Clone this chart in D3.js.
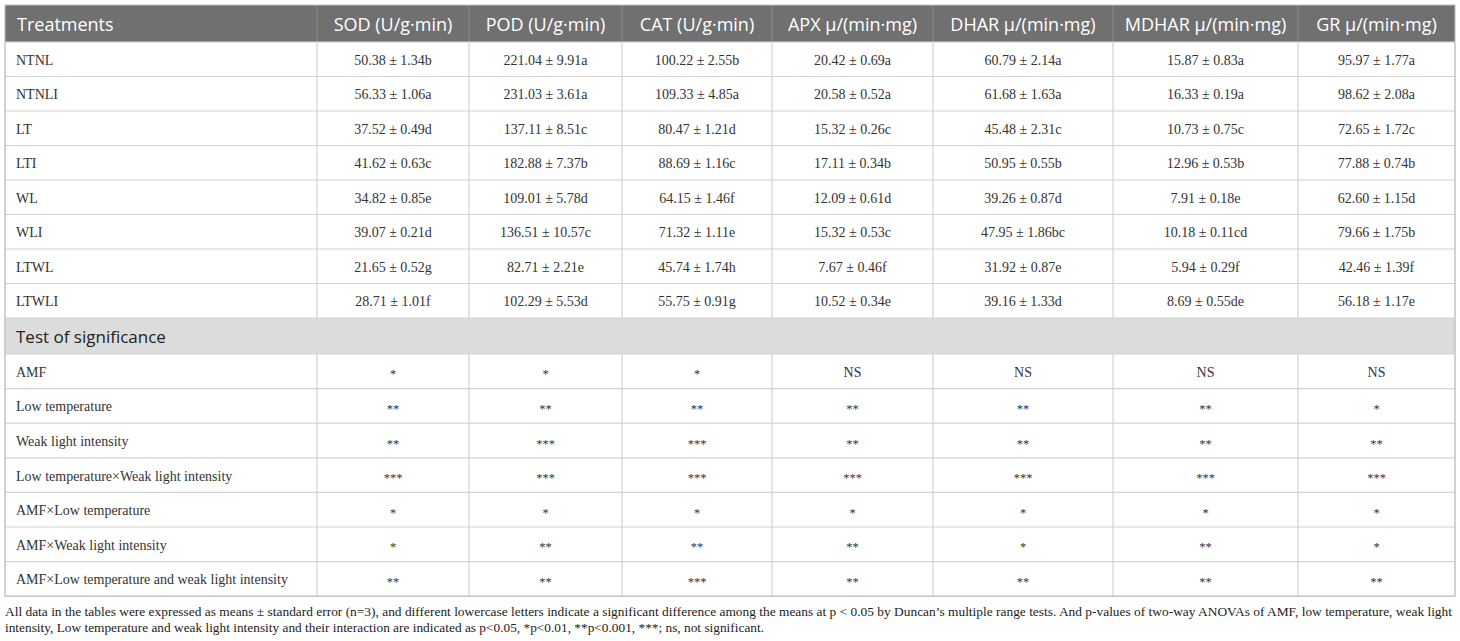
<!DOCTYPE html>
<html>
<head>
<meta charset="utf-8">
<script src="https://cdn.jsdelivr.net/npm/d3@7"></script>
<style>
  html, body { margin: 0; padding: 0; background: #fff; }
  svg { display: block; }
</style>
</head>
<body>
<svg id="chart" width="1460" height="641"></svg>
<script>
// ---------------- DATA ----------------
const headers = ["Treatments", "SOD (U/g·min)", "POD (U/g·min)", "CAT (U/g·min)", "APX μ/(min·mg)", "DHAR μ/(min·mg)", "MDHAR μ/(min·mg)", "GR μ/(min·mg)"];
const treatments = ["NTNL", "NTNLI", "LT", "LTI", "WL", "WLI", "LTWL", "LTWLI"];
const sod   = ["50.38 ± 1.34b", "56.33 ± 1.06a", "37.52 ± 0.49d", "41.62 ± 0.63c", "34.82 ± 0.85e", "39.07 ± 0.21d", "21.65 ± 0.52g", "28.71 ± 1.01f"];
const pod   = ["221.04 ± 9.91a", "231.03 ± 3.61a", "137.11 ± 8.51c", "182.88 ± 7.37b", "109.01 ± 5.78d", "136.51 ± 10.57c", "82.71 ± 2.21e", "102.29 ± 5.53d"];
const cat   = ["100.22 ± 2.55b", "109.33 ± 4.85a", "80.47 ± 1.21d", "88.69 ± 1.16c", "64.15 ± 1.46f", "71.32 ± 1.11e", "45.74 ± 1.74h", "55.75 ± 0.91g"];
const apx   = ["20.42 ± 0.69a", "20.58 ± 0.52a", "15.32 ± 0.26c", "17.11 ± 0.34b", "12.09 ± 0.61d", "15.32 ± 0.53c", "7.67 ± 0.46f", "10.52 ± 0.34e"];
const dhar  = ["60.79 ± 2.14a", "61.68 ± 1.63a", "45.48 ± 2.31c", "50.95 ± 0.55b", "39.26 ± 0.87d", "47.95 ± 1.86bc", "31.92 ± 0.87e", "39.16 ± 1.33d"];
const mdhar = ["15.87 ± 0.83a", "16.33 ± 0.19a", "10.73 ± 0.75c", "12.96 ± 0.53b", "7.91 ± 0.18e", "10.18 ± 0.11cd", "5.94 ± 0.29f", "8.69 ± 0.55de"];
const gr    = ["95.97 ± 1.77a", "98.62 ± 2.08a", "72.65 ± 1.72c", "77.88 ± 0.74b", "62.60 ± 1.15d", "79.66 ± 1.75b", "42.46 ± 1.39f", "56.18 ± 1.17e"];

const sectionTitle = "Test of significance";
const factors = ["AMF", "Low temperature", "Weak light intensity", "Low temperature×Weak light intensity", "AMF×Low temperature", "AMF×Weak light intensity", "AMF×Low temperature and weak light intensity"];
const sigAMF      = ["*", "*", "*", "NS", "NS", "NS", "NS"];
const sigLT       = ["**", "**", "**", "**", "**", "**", "*"];
const sigWL       = ["**", "***", "***", "**", "**", "**", "**"];
const sigLTxWL    = ["***", "***", "***", "***", "***", "***", "***"];
const sigAMFxLT   = ["*", "*", "*", "*", "*", "*", "*"];
const sigAMFxWL   = ["*", "**", "**", "**", "*", "**", "*"];
const sigAMFxLTWL = ["**", "**", "***", "**", "**", "**", "**"];

const footnote = [
  "All data in the tables were expressed as means ± standard error (n=3), and different lowercase letters indicate a significant difference among the means at p < 0.05 by Duncan’s multiple range tests. And p-values of two-way ANOVAs of AMF, low temperature, weak light",
  "intensity, Low temperature and weak light intensity and their interaction are indicated as p<0.05, *p<0.01, **p<0.001, ***; ns, not significant."
];

(function () {
// ---------------- LAYOUT ----------------
const colEdges = [5, 317, 469, 622, 772, 933, 1113, 1298, 1455];
const tableTop = 5, headerH = 37, rowH = 34.5, sectionH = 36, sigRowH = 34.6;

const dataCols = [sod, pod, cat, apx, dhar, mdhar, gr];
const sigRows = [sigAMF, sigLT, sigWL, sigLTxWL, sigAMFxLT, sigAMFxWL, sigAMFxLTWL];

const rows = [];
let y = tableTop + headerH;
treatments.forEach((t, i) => {
  rows.push({ type: "data", y0: y, h: rowH, cells: [t].concat(dataCols.map(c => c[i])) });
  y += rowH;
});
rows.push({ type: "section", y0: y, h: sectionH, cells: [sectionTitle] });
y += sectionH;
factors.forEach((f, i) => {
  rows.push({ type: "data", y0: y, h: sigRowH, cells: [f].concat(sigRows[i]) });
  y += sigRowH;
});
const bottom = y;

const svg = d3.select("#chart");
const cx = i => (colEdges[i] + colEdges[i + 1]) / 2;
const left = colEdges[0], right = colEdges[colEdges.length - 1];

const sans = "'Open Sans', 'Noto Sans', sans-serif";
const serif = "'Liberation Serif', 'DejaVu Serif', serif";
const gridColor = "#d2d2d2";

svg.append("rect")
  .attr("x", left).attr("y", tableTop)
  .attr("width", right - left).attr("height", headerH)
  .attr("fill", "#707070");

const sec = rows.find(r => r.type === "section");
svg.append("rect")
  .attr("x", left).attr("y", sec.y0)
  .attr("width", right - left).attr("height", sec.h)
  .attr("fill", "#dcdcdc");

svg.selectAll("line.hsep").data(colEdges.slice(1, -1)).join("line")
  .attr("class", "hsep")
  .attr("x1", d => d).attr("x2", d => d)
  .attr("y1", tableTop).attr("y2", tableTop + headerH)
  .attr("stroke", "#8c8c8c").attr("stroke-width", 1);

svg.selectAll("text.head").data(headers).join("text")
  .attr("class", "head")
  .attr("x", (d, i) => i === 0 ? left + 12 : cx(i))
  .attr("y", tableTop + headerH / 2)
  .attr("text-anchor", (d, i) => i === 0 ? "start" : "middle")
  .attr("dominant-baseline", "central")
  .attr("font-family", sans)
  .attr("font-size", 18)
  .attr("fill", "#ffffff")
  .text(d => d);

const hLines = rows.map(r => r.y0).concat([bottom]);
svg.selectAll("line.hl").data(hLines).join("line")
  .attr("class", "hl")
  .attr("x1", left).attr("x2", right)
  .attr("y1", d => d).attr("y2", d => d)
  .attr("stroke", gridColor).attr("stroke-width", 1.2);

rows.filter(r => r.type === "data").forEach(r => {
  svg.append("g").selectAll("line").data(colEdges).join("line")
    .attr("x1", d => d).attr("x2", d => d)
    .attr("y1", r.y0).attr("y2", r.y0 + r.h)
    .attr("stroke", gridColor).attr("stroke-width", 1.2);
});
[left, right].forEach(xx => {
  svg.append("line").attr("x1", xx).attr("x2", xx)
    .attr("y1", sec.y0).attr("y2", sec.y0 + sec.h)
    .attr("stroke", gridColor).attr("stroke-width", 1.2);
});
svg.append("rect")
  .attr("x", left).attr("y", tableTop)
  .attr("width", right - left).attr("height", bottom - tableTop)
  .attr("fill", "none").attr("stroke", "#bdbdbd").attr("stroke-width", 1);

rows.forEach(r => {
  const g = svg.append("g");
  if (r.type === "section") {
    g.append("text")
      .attr("x", left + 11)
      .attr("y", r.y0 + r.h / 2)
      .attr("dominant-baseline", "central")
      .attr("font-family", sans)
      .attr("font-size", 17)
      .attr("fill", "#222")
      .text(r.cells[0]);
    return;
  }
  g.selectAll("text").data(r.cells).join("text")
    .attr("x", (d, i) => i === 0 ? left + 11 : cx(i))
    .attr("y", d => r.y0 + r.h / 2 + (/^\*+$/.test(d) ? 3 : 1))
    .attr("text-anchor", (d, i) => i === 0 ? "start" : "middle")
    .attr("dominant-baseline", "central")
    .attr("font-family", serif)
    .attr("font-size", d => /^\*+$/.test(d) ? 12.5 : 14)
    .attr("fill", "#333")
    .text(d => d);
});

svg.selectAll("text.foot").data(footnote).join("text")
  .attr("class", "foot")
  .attr("x", left)
  .attr("y", (d, i) => bottom + 15 + i * 16)
  .attr("dominant-baseline", "central")
  .attr("font-family", serif)
  .attr("font-size", 13)
  .attr("fill", "#222")
  .attr("textLength", (d, i) => i === 0 ? 1447 : 759)
  .attr("lengthAdjust", "spacingAndGlyphs")
  .text(d => d);
})();
</script>
</body>
</html>
